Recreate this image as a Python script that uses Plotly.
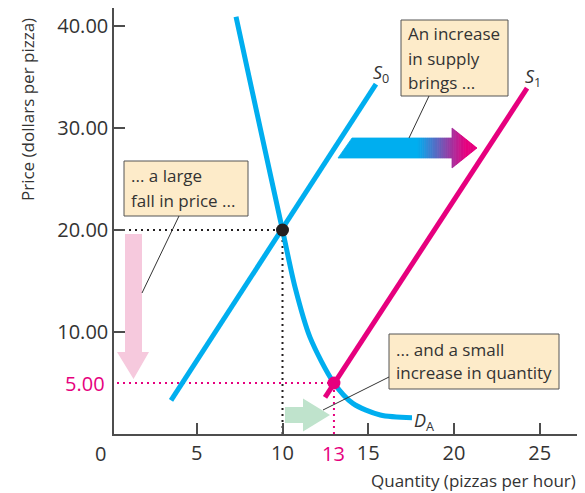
import plotly.graph_objects as go

# ---------------- data ----------------
demand_q = [7.29, 8.7, 10.0, 10.73, 11.6, 13.0, 14.1, 15.7, 17.55]
demand_p = [40.9, 30.0, 20.0, 14.4, 9.5, 5.0, 3.0, 1.86, 1.6]
s0_q = [3.5, 15.45]
s0_p = [3.3, 34.3]
s1_q = [12.48, 24.26]
s1_p = [3.6, 33.9]
eq0_q, eq0_p = [10], [20]
eq1_q, eq1_p = [13], [5]
x_tick_vals = [5, 10, 15, 20, 25]
x_tick_text = ["5", "10", "15", "20", "25"]
y_tick_vals = [10, 20, 30, 40]
y_tick_text = ["10.00", "20.00", "30.00", "40.00"]

# ---------------- styling ----------------
BLUE = "#00aeef"
MAG = "#e6007e"
TXT = "#333333"
AX = "#4d4d4d"
BOXF = "#fdebc9"
FONT = "Open Sans"

# page-pixel helpers (for decorative annotations only)
def X(px):
    return (px - 111) / 17.15

def Y(py):
    return (434 - py) / 10.2

def PX(px):
    return (px - 114) / 465

def PY(py):
    return (434 - py) / 426

fig = go.Figure()

# dotted guide lines
dot = "2px,4px"
fig.add_trace(go.Scatter(x=[0, eq0_q[0]], y=[eq0_p[0], eq0_p[0]], mode="lines",
                         line=dict(color="#231f20", width=2, dash=dot), hoverinfo="skip"))
fig.add_trace(go.Scatter(x=[eq0_q[0], eq0_q[0]], y=[0, eq0_p[0]], mode="lines",
                         line=dict(color="#231f20", width=2, dash=dot), hoverinfo="skip"))
fig.add_trace(go.Scatter(x=[0, eq1_q[0]], y=[eq1_p[0], eq1_p[0]], mode="lines",
                         line=dict(color=MAG, width=2, dash=dot), hoverinfo="skip"))
fig.add_trace(go.Scatter(x=[eq1_q[0], eq1_q[0]], y=[0, eq1_p[0]], mode="lines",
                         line=dict(color=MAG, width=2, dash=dot), hoverinfo="skip"))

# curves
fig.add_trace(go.Scatter(x=demand_q, y=demand_p, mode="lines",
                         line=dict(color=BLUE, width=5, shape="spline", smoothing=0.8)))
fig.add_trace(go.Scatter(x=s0_q, y=s0_p, mode="lines", line=dict(color=BLUE, width=5)))
fig.add_trace(go.Scatter(x=s1_q, y=s1_p, mode="lines", line=dict(color=MAG, width=5)))

# equilibrium points
fig.add_trace(go.Scatter(x=eq0_q, y=eq0_p, mode="markers",
                         marker=dict(color="#231f20", size=13)))
fig.add_trace(go.Scatter(x=eq1_q, y=eq1_p, mode="markers",
                         marker=dict(color=MAG, size=13)))

shapes = []

# ---- gradient arrow (supply shift) ----
xlb, xlt, base, tip = X(338), X(352), X(452), X(477)
yc, h, H = Y(148), 10 / 10.2, 20 / 10.2
g0, g1 = X(418), X(466)
b_rgb = (0, 174, 239)
m_rgb = (230, 0, 126)

def col(x):
    t = min(1, max(0, (x - g0) / (g1 - g0)))
    c = [round(b_rgb[i] + (m_rgb[i] - b_rgb[i]) * t) for i in range(3)]
    return "rgb(%d,%d,%d)" % tuple(c)

shapes.append(dict(type="path", xref="x", yref="y", layer="above",
                   path=f"M{xlb},{yc-h} L{g0},{yc-h} L{g0},{yc+h} L{xlt},{yc+h} Z",
                   fillcolor=col(g0), line=dict(color=col(g0), width=0.8)))
N1, N2 = 16, 20
shaft_edges = [g0 + (base - g0) * i / N1 for i in range(N1 + 1)]
head_edges = [base + (tip - base) * i / N2 for i in range(N2 + 1)]
for i in range(N1):
    a, b = shaft_edges[i], shaft_edges[i + 1]
    c = col((a + b) / 2)
    shapes.append(dict(type="path", xref="x", yref="y", layer="above",
                       path=f"M{a},{yc-h} L{b},{yc-h} L{b},{yc+h} L{a},{yc+h} Z",
                       fillcolor=c, line=dict(color=c, width=0.8)))
for i in range(N2):
    a, b = head_edges[i], head_edges[i + 1]
    ha = H * (tip - a) / (tip - base)
    hb = H * (tip - b) / (tip - base)
    c = col((a + b) / 2)
    shapes.append(dict(type="path", xref="x", yref="y", layer="above",
                       path=f"M{a},{yc-ha} L{b},{yc-hb} L{b},{yc+hb} L{a},{yc+ha} Z",
                       fillcolor=c, line=dict(color=c, width=0.8)))

# ---- pink arrow (price fall) ----
pl, pr, hl, hr = X(125), X(142), X(117), X(149)
pc = (pl + pr) / 2
ptop, pbase, ptip = Y(234), Y(352), Y(379)
shapes.append(dict(type="path", xref="x", yref="y", layer="above",
                   path=f"M{pl},{ptop} L{pr},{ptop} L{pr},{pbase} L{hr},{pbase} L{pc},{ptip} "
                        f"L{hl},{pbase} L{pl},{pbase} Z",
                   fillcolor="#f6c9dd", line=dict(width=0)))

# ---- green arrow (quantity rise) ----
gl, gb, gt = X(285), X(303), X(330)
gy, gh, gH = Y(415), 8 / 10.2, 16.5 / 10.2
shapes.append(dict(type="path", xref="x", yref="y", layer="above",
                   path=f"M{gl},{gy-gh} L{gb},{gy-gh} L{gb},{gy-gH} L{gt},{gy} L{gb},{gy+gH} "
                        f"L{gb},{gy+gh} L{gl},{gy+gh} Z",
                   fillcolor="#bfe3cc", line=dict(width=0)))

# ---- text boxes and leader lines ----
boxes = [(401, 20, 508, 96), (124, 161, 248, 216), (389, 334, 559, 389)]
for (x0, y0, x1, y1) in boxes:
    shapes.append(dict(type="rect", xref="x", yref="y", layer="above",
                       x0=X(x0), x1=X(x1), y0=Y(y1), y1=Y(y0),
                       fillcolor=BOXF, line=dict(color="#555555", width=1)))
leaders = [((429, 96), (409, 138)), ((179, 216), (142, 293)), ((389, 377), (323, 410))]
for (p0, p1) in leaders:
    shapes.append(dict(type="line", xref="x", yref="y", layer="above",
                       x0=X(p0[0]), y0=Y(p0[1]), x1=X(p1[0]), y1=Y(p1[1]),
                       line=dict(color="#333333", width=1)))

annotations = []
box_lines = [
    (406, 33, "An increase"), (406, 58, "in supply"), (406, 82, "brings ..."),
    (129, 175, "... a large"), (129, 200, "fall in price ..."),
    (394, 349, "... and a small"), (394, 372, "increase in quantity"),
]
for (px, py, t) in box_lines:
    annotations.append(dict(x=X(px), y=Y(py), xref="x", yref="y", text=t, showarrow=False,
                            xanchor="left", yanchor="middle",
                            font=dict(family=FONT, size=17, color=TXT)))

# curve labels
annotations += [
    dict(x=X(381), y=Y(73), xref="x", yref="y", text="<i>S</i><sub>0</sub>", showarrow=False,
         font=dict(family=FONT, size=18, color=TXT)),
    dict(x=X(533), y=Y(77), xref="x", yref="y", text="<i>S</i><sub>1</sub>", showarrow=False,
         font=dict(family=FONT, size=18, color=TXT)),
    dict(x=X(424), y=Y(421), xref="x", yref="y", text="<i>D</i><sub>A</sub>", showarrow=False,
         font=dict(family=FONT, size=18, color=TXT)),
]

# special tick labels
annotations += [
    dict(x=PX(100), y=PY(453), xref="paper", yref="paper", text="0", showarrow=False,
         xanchor="center", yanchor="middle", font=dict(family=FONT, size=20, color=TXT)),
    dict(x=13, y=PY(453), xref="x", yref="paper", text="13", showarrow=False,
         xanchor="center", yanchor="middle", font=dict(family=FONT, size=20, color=MAG)),
    dict(x=PX(107), y=5, xref="paper", yref="y", text="5.00", showarrow=False,
         xanchor="right", yanchor="middle", font=dict(family=FONT, size=20, color=MAG)),
]

# axis titles
annotations += [
    dict(x=PX(27), y=PY(110), xref="paper", yref="paper", text="Price (dollars per pizza)",
         showarrow=False, textangle=-90, xanchor="center", yanchor="middle",
         font=dict(family=FONT, size=17, color=TXT)),
    dict(x=PX(578), y=PY(480), xref="paper", yref="paper", text="Quantity (pizzas per hour)",
         showarrow=False, xanchor="right", yanchor="middle",
         font=dict(family=FONT, size=17, color=TXT)),
]

# the page body adds an 8px offset, so size/margins compensate for it
fig.update_layout(
    width=577, height=485,
    margin=dict(l=106, r=6, t=0, b=59),
    paper_bgcolor="white", plot_bgcolor="white",
    showlegend=False,
    shapes=shapes, annotations=annotations,
    font=dict(family=FONT, color=TXT),
)
fig.update_xaxes(range=[X(114), X(579)], tickvals=x_tick_vals, ticktext=x_tick_text,
                 ticks="inside", ticklen=11, tickwidth=1.5, tickcolor=AX,
                 showline=True, linecolor=AX, linewidth=1.5, showgrid=False, zeroline=False,
                 tickfont=dict(family=FONT, size=20, color=TXT), ticklabelstandoff=0)
fig.update_yaxes(range=[0, Y(8)], tickvals=y_tick_vals, ticktext=y_tick_text,
                 ticks="inside", ticklen=11, tickwidth=1.5, tickcolor=AX,
                 showline=True, linecolor=AX, linewidth=1.5, showgrid=False, zeroline=False,
                 tickfont=dict(family=FONT, size=20, color=TXT), ticklabelstandoff=0)

fig.write_html("out.html")
